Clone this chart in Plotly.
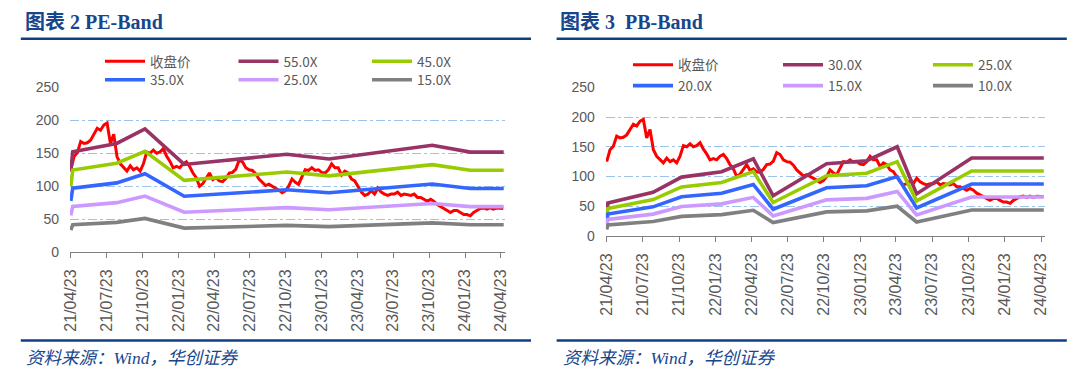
import pandas as pd
import plotly.graph_objects as go

# the page body adds an 8px margin, so the figure is sized to fit the window
PAGE_OFFSET = 8
FIG_W, FIG_H = 1080 - PAGE_OFFSET, 379 - PAGE_OFFSET

# ---------------- data ----------------
price_start = "2021-04-23"
price_end = "2024-04-29"
close_price = [
    125, 145, 151, 168, 165, 166, 170, 179, 188, 185,
    193, 196, 165, 179, 145, 134, 128, 123, 131, 125,
    128, 123, 134, 152, 150, 155, 150, 152, 157, 146,
    138, 128, 130, 128, 134, 137, 130, 120, 113, 100,
    104, 112, 120, 110, 113, 108, 107, 112, 120, 121,
    126, 140, 137, 128, 125, 124, 119, 111, 106, 101,
    103, 100, 98, 94, 90,
    93, 100, 111, 106, 103, 114, 125, 124, 128, 124,
    125, 121, 120, 125, 134, 128, 128, 117, 123, 120,
    111, 108, 100, 91, 86, 88, 93, 88, 97, 91,
    88, 86, 88, 88, 91, 86, 88, 87, 86, 88,
    83, 83, 80, 77, 80, 77, 72, 69, 66, 63,
    60, 63, 63, 60, 57, 57, 55, 60, 63, 66,
    67, 65, 67, 65, 67, 66, 66,
]

pe_dates = ["2021-04-23", "2021-04-28", "2021-08-18", "2021-10-29", "2022-02-06",
            "2022-10-25", "2023-02-10", "2023-10-31", "2024-02-05", "2024-04-30"]
pe_55x = [122.1, 152.4, 165.0, 187.0, 133.1, 148.5, 141.4, 162.3, 151.8, 151.8]
pe_45x = [99.9, 124.7, 135.0, 153.0, 108.9, 121.5, 115.7, 132.8, 124.2, 124.2]
pe_35x = [77.7, 97.0, 105.0, 119.0, 84.7, 94.5, 90.0, 103.3, 96.6, 96.6]
pe_25x = [55.5, 69.3, 75.0, 85.0, 60.5, 67.5, 64.3, 73.8, 69.0, 69.0]
pe_15x = [33.3, 41.6, 45.0, 51.0, 36.3, 40.5, 38.6, 44.3, 41.4, 41.4]

pb_dates = ["2021-04-23", "2021-04-26", "2021-08-18", "2021-10-29", "2022-02-07",
            "2022-04-28", "2022-06-17", "2022-10-30", "2023-02-08", "2023-04-26",
            "2023-06-14", "2023-10-31", "2024-04-30"]
pb_30x = [33.0, 55.5, 73.5, 99.0, 108.0, 129.9, 67.5, 121.5, 126.6, 150.0, 70.8, 131.1, 131.1]
pb_25x = [27.5, 46.3, 61.3, 82.5, 90.0, 108.3, 56.3, 101.3, 105.5, 125.0, 59.0, 109.3, 109.3]
pb_20x = [22.0, 37.0, 49.0, 66.0, 72.0, 86.6, 45.0, 81.0, 84.4, 100.0, 47.2, 87.4, 87.4]
pb_15x = [16.5, 27.8, 36.8, 49.5, 54.0, 65.0, 33.8, 60.8, 63.3, 75.0, 35.4, 65.6, 65.6]
pb_10x = [11.0, 18.5, 24.5, 33.0, 36.0, 43.3, 22.5, 40.5, 42.2, 50.0, 23.6, 43.7, 43.7]

price_name = "收盘价"
pe_names = ["55.0X", "45.0X", "35.0X", "25.0X", "15.0X"]
pb_names = ["30.0X", "25.0X", "20.0X", "15.0X", "10.0X"]
titles = ["图表 2 PE-Band", "图表 3\u00a0\u00a0PB-Band"]
source_text = "资料来源：<i>Wind</i>，华创证券"

# ---------------- styles ----------------
price_color = "#FF0000"
band_colors = ["#993366", "#99CC00", "#3366FF", "#CC99FF", "#808080"]
navy = "#0E3F82"
title_color = "#17468C"
tick_color = "#595959"
grid_color = "#9DC3E6"
cjk_sans = "Noto Sans CJK SC"


def px_x(p):
    # screen pixel -> paper fraction
    return (p - PAGE_OFFSET) / FIG_W


def px_y(p):
    return 1 - (p - PAGE_OFFSET) / FIG_H


price_dates = pd.date_range(price_start, price_end, periods=len(close_price))

fig = go.Figure()

panels = [
    dict(xa="x", ya="y", bands=[pe_55x, pe_45x, pe_35x, pe_25x, pe_15x], names=pe_names,
         dates=pe_dates, legs=["legend", "legend2"]),
    dict(xa="x2", ya="y2", bands=[pb_30x, pb_25x, pb_20x, pb_15x, pb_10x], names=pb_names,
         dates=pb_dates, legs=["legend3", "legend4"]),
]

for p in panels:
    fig.add_trace(go.Scatter(
        x=price_dates, y=close_price, name=price_name, mode="lines",
        line=dict(color=price_color, width=3), xaxis=p["xa"], yaxis=p["ya"],
        legend=p["legs"][0]))
    for i, (vals, nm) in enumerate(zip(p["bands"], p["names"])):
        fig.add_trace(go.Scatter(
            x=p["dates"], y=vals, name=nm, mode="lines",
            line=dict(color=band_colors[i], width=3.6), xaxis=p["xa"], yaxis=p["ya"],
            legend=p["legs"][0] if i < 2 else p["legs"][1]))

xcommon = dict(
    type="date", range=["2021-04-21", "2024-05-02"], tick0="2021-04-23", dtick="M3",
    tickformat="%y/%m/%d", tickangle=-90, ticks="outside", ticklen=5, tickcolor="#7F7F7F",
    showline=True, linecolor="#7F7F7F", linewidth=1, showgrid=False, zeroline=False,
    tickfont=dict(family="Liberation Sans", size=16, color=tick_color), ticklabelstandoff=5,
    automargin=False,
)
ycommon = dict(
    range=[0, 250], dtick=50, tick0=0, showgrid=True, gridcolor=grid_color, griddash="dashdot",
    gridwidth=1, zeroline=False, showline=False, ticks="",
    tickfont=dict(family="Liberation Sans", size=14, color=tick_color), ticklabelstandoff=10,
    automargin=False,
)

legend_font = dict(family=cjk_sans, size=13.5, color=tick_color)


def make_legend(xp, yp, ew):
    return dict(orientation="h", x=px_x(xp), y=px_y(yp), xanchor="left", yanchor="middle",
                bgcolor="rgba(0,0,0,0)", borderwidth=0, font=legend_font,
                entrywidth=ew, entrywidthmode="pixels", itemwidth=40, tracegroupgap=0)


fig.update_layout(
    width=FIG_W, height=FIG_H, margin=dict(l=0, r=0, t=0, b=0, autoexpand=False),
    paper_bgcolor="white", plot_bgcolor="white", showlegend=True,
    xaxis=dict(xcommon, domain=[px_x(70), px_x(504.5)], anchor="y"),
    yaxis=dict(ycommon, domain=[px_y(252), px_y(87.5)], anchor="x"),
    xaxis2=dict(xcommon, domain=[px_x(605.9), px_x(1044.6)], anchor="y2"),
    yaxis2=dict(ycommon, domain=[px_y(236), px_y(87.3)], anchor="x2"),
    legend=make_legend(100, 61.5, 78.5),
    legend2=make_legend(100, 80.0, 78.5),
    legend3=make_legend(628, 65, 95),
    legend4=make_legend(628, 85.8, 95),
)

# rules under titles and above source notes
for x0, x1 in [(20.8, 531), (556.6, 1066.8)]:
    for yy in (38.8, 340.4):
        fig.add_shape(type="line", xref="paper", yref="paper", x0=px_x(x0), x1=px_x(x1),
                      y0=px_y(yy), y1=px_y(yy), line=dict(color=navy, width=2.5))

for ttl, tx in zip(titles, [22.5, 558]):
    fig.add_annotation(text=ttl, xref="paper", yref="paper", x=px_x(tx), y=px_y(22.0),
                       xanchor="left", yanchor="middle", showarrow=False,
                       font=dict(family="Liberation Serif, " + cjk_sans, size=20,
                                 color=title_color, weight="bold"))

for sx in [24, 561]:
    fig.add_annotation(text=source_text, xref="paper", yref="paper", x=px_x(sx), y=px_y(358),
                       xanchor="left", yanchor="middle", showarrow=False,
                       font=dict(family="Liberation Serif, " + cjk_sans, size=17.5,
                                 color=title_color, style="italic"))

fig.write_html("out.html")
